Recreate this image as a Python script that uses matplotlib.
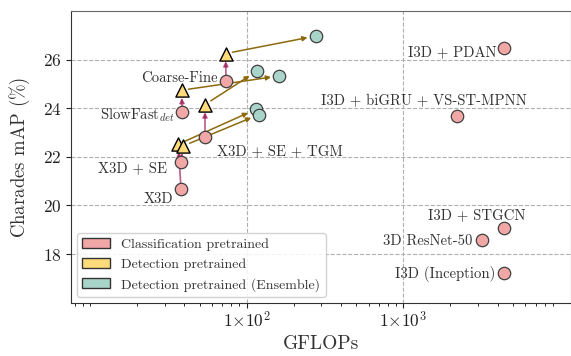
#!/usr/bin/env python3
"""Charades mAP vs GFLOPs, classification vs detection pretrained backbones."""

import matplotlib
matplotlib.use("Agg")
import matplotlib.pyplot as plt
from matplotlib.patches import Patch

plt.rcParams["font.family"] = "serif"
plt.rcParams["font.serif"] = ["cmr10", "DejaVu Serif"]
plt.rcParams["mathtext.fontset"] = "cm"
plt.rcParams["axes.formatter.use_mathtext"] = True

# classification pretrained models
cls_names = ["X3D", "X3D + SE", "SlowFast$_{det}$", "Coarse-Fine", "X3D + SE + TGM",
             "I3D + PDAN", "I3D + biGRU + VS-ST-MPNN", "I3D + STGCN",
             "3D ResNet-50", "I3D (Inception)"]
cls_gflops = [38.1, 38.1, 38.8, 73.8, 54.2, 4416, 2213, 4400, 3168, 4400]
cls_map = [20.66, 21.80, 23.84, 25.12, 22.82, 26.49, 23.69, 19.09, 18.59, 17.22]

# detection pretrained (same first five models)
det_gflops = [36.6, 39.4, 38.4, 73.4, 54.2]
det_map = [22.52, 22.45, 24.74, 26.25, 24.15]

# detection pretrained ensembles
ens_gflops = [114.2, 119.8, 161.5, 275.8, 115.8]
ens_map = [23.95, 23.74, 25.33, 26.97, 25.52]

# label placement: (dx px, dy px, ha)  dy measured upward to text baseline
LABEL_POS = [(-8, -14, "right"), (-14, -10, "right"), (-7, -7, "right"),
             (-8, -1, "right"), (12, -18, "left"), (-8, -8, "right"),
             (-33, 11, "center"), (-27, 8, "center"), (-9, -5, "right"),
             (-9, -5, "right")]

C_CLS = "#f2a7a7"
C_DET = "#ffdb7a"
C_ENS = "#a9d4c9"
C_ARR1 = "#a3275f"
C_ARR2 = "#8c6a0c"
PX = 0.72  # points per pixel at dpi 100


def main():
    fig = plt.figure(figsize=(5.71, 3.56), dpi=100)
    ax = fig.add_axes([71.3 / 571, 1 - 302.7 / 356, (571 - 71.3) / 571, (302.7 - 11) / 356])

    for i in range(len(det_gflops)):
        ax.annotate("", xy=(det_gflops[i], det_map[i]), xytext=(cls_gflops[i], cls_map[i]),
                    arrowprops=dict(arrowstyle="-|>", color=C_ARR1, lw=1.2, alpha=0.75,
                                    mutation_scale=7, shrinkA=4.5, shrinkB=5.5), zorder=2)
        ax.annotate("", xy=(ens_gflops[i], ens_map[i]), xytext=(det_gflops[i], det_map[i]),
                    arrowprops=dict(arrowstyle="-|>", color=C_ARR2, lw=1.1,
                                    mutation_scale=7, shrinkA=5, shrinkB=6), zorder=2)

    ax.scatter(cls_gflops, cls_map, s=80, c=C_CLS, edgecolors="#404040", linewidths=0.9, zorder=3)
    ax.scatter(det_gflops, det_map, s=90, marker="^", c=C_DET, edgecolors="black", linewidths=1.0, zorder=4)
    ax.scatter(ens_gflops, ens_map, s=80, c=C_ENS, edgecolors="#404040", linewidths=0.9, zorder=3)

    for name, x, y, (dx, dy, ha) in zip(cls_names, cls_gflops, cls_map, LABEL_POS):
        ax.annotate(name, (x, y), xytext=(dx * PX, dy * PX), textcoords="offset points",
                    ha=ha, va="baseline", fontsize=10.6, color="#333333", zorder=5)

    ax.set_xscale("log")
    ax.set_xlim(7.59, 11780)
    ax.set_ylim(16, 28)
    ax.set_xticks([100, 1000])
    ax.set_xticklabels([r"$1{\times}10^{2}$", r"$1{\times}10^{3}$"])
    minors = [m * 10 ** e for e in (0, 1, 2, 3) for m in range(2, 10)
              if 7.59 < m * 10 ** e < 10000] + [10]
    ax.set_xticks(minors, minor=True)
    ax.set_xticklabels([], minor=True)
    ax.set_yticks([18, 20, 22, 24, 26])
    ax.tick_params(labelsize=12.5, colors="#222222")
    ax.tick_params(axis="x", pad=2)
    ax.grid(True, which="major", linestyle="--", color="#b0b0b0", linewidth=0.8)
    ax.set_axisbelow(True)
    for s in ("top", "right", "left", "bottom"):
        ax.spines[s].set_color("#333333")
    ax.spines["top"].set_color("#666666")

    ax.set_xlabel("GFLOPs", fontsize=14, color="#333333", labelpad=3)
    ax.set_ylabel("Charades mAP (" + r"$\%$" + ")", fontsize=13.5, color="#333333", labelpad=8)

    handles = [Patch(facecolor=C_CLS, edgecolor="#333333", label="Classification pretrained"),
               Patch(facecolor=C_DET, edgecolor="#333333", label="Detection pretrained"),
               Patch(facecolor=C_ENS, edgecolor="#333333", label="Detection pretrained (Ensemble)")]
    leg = ax.legend(handles=handles, loc="lower left", fontsize=10, framealpha=0.85,
                    borderaxespad=0.4, handlelength=2.0, labelspacing=0.5)
    for t in leg.get_texts():
        t.set_color("#333333")

    fig.savefig("out.png", dpi=100)
    plt.close(fig)


if __name__ == "__main__":
    main()
